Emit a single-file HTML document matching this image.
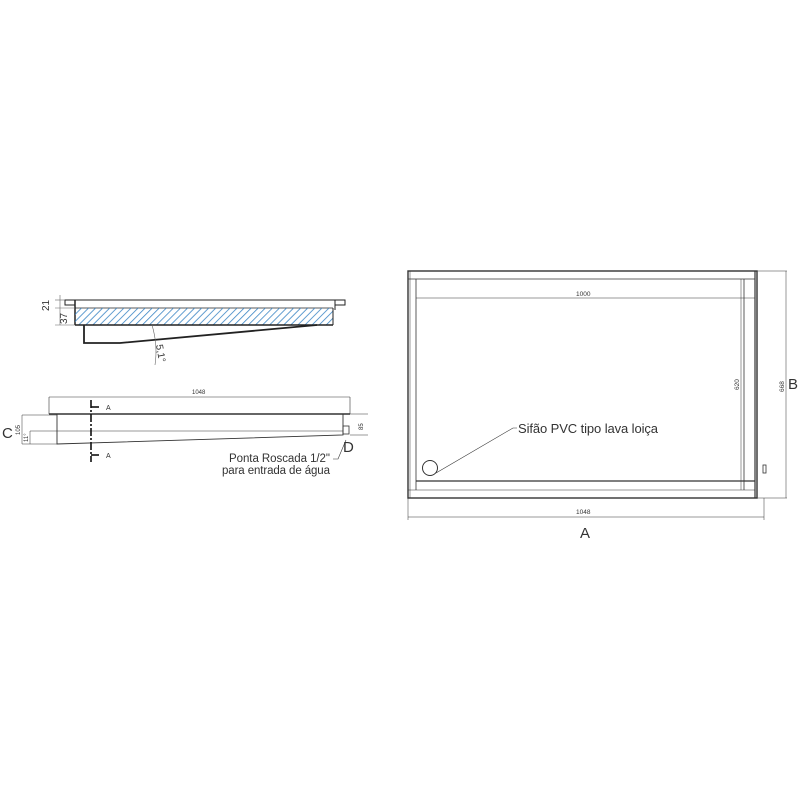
<!DOCTYPE html>
<html><head><meta charset="utf-8"><style>
html,body{margin:0;padding:0;background:#fff;width:800px;height:800px;overflow:hidden}
text{font-family:"Liberation Sans",sans-serif;fill:#333}
</style></head><body>
<svg width="800" height="800" viewBox="0 0 800 800" xmlns="http://www.w3.org/2000/svg">
<defs>
<pattern id="h" patternUnits="userSpaceOnUse" width="5" height="5" patternTransform="rotate(45)">
<line x1="0" y1="0" x2="0" y2="5" stroke="#3a85c4" stroke-width="1.6"/>
</pattern>
</defs>
<rect width="800" height="800" fill="#fff"/>
<!-- TOP LEFT SECTION VIEW -->
<g stroke="#222" fill="none">
<line x1="65" y1="300" x2="345" y2="300" stroke-width="1"/>
<rect x="65" y="300" width="10" height="5" stroke-width="1"/>
<rect x="335" y="300" width="10" height="5" stroke-width="1"/>
<line x1="75" y1="300" x2="75" y2="325" stroke-width="1.5"/>
<line x1="335" y1="300" x2="335" y2="310" stroke-width="1"/>
<line x1="75" y1="308" x2="333" y2="308" stroke-width="0.8"/>
<rect x="75" y="308" width="258" height="17" fill="url(#h)" stroke="none"/>
<line x1="75" y1="325" x2="333" y2="325" stroke-width="1.5"/>
<line x1="333" y1="308" x2="333" y2="325" stroke-width="1"/>
<polyline points="84,325 84,343 120,343 317,325" stroke-width="1.8"/>
<line x1="60" y1="295" x2="60" y2="325" stroke="#666" stroke-width="0.6"/>
<line x1="55" y1="300" x2="65" y2="300" stroke="#666" stroke-width="0.6"/>
<line x1="55" y1="308" x2="75" y2="308" stroke="#666" stroke-width="0.6"/>
<line x1="55" y1="325" x2="75" y2="325" stroke="#666" stroke-width="0.6"/>
<path d="M152,325 Q158,345 155,365" stroke="#666" stroke-width="0.6"/>
</g>
<text x="0" y="0" font-size="10" transform="translate(49,311) rotate(-90)">21</text>
<text x="0" y="0" font-size="10" transform="translate(67,324) rotate(-90)">37</text>
<text x="0" y="0" font-size="10" transform="translate(156,345) rotate(80)">5,1°</text>

<!-- SIDE VIEW -->
<g stroke="#333" fill="none">
<line x1="49" y1="397" x2="350" y2="397" stroke-width="0.6"/>
<line x1="49" y1="397" x2="49" y2="414" stroke-width="0.6"/>
<line x1="350" y1="397" x2="350" y2="414" stroke-width="0.6"/>
<line x1="49" y1="414" x2="350" y2="414" stroke-width="1.6"/>
<polyline points="57,414 57,444 343,435 343,414" stroke-width="0.9"/>
<line x1="57" y1="431" x2="343" y2="431" stroke-width="0.5"/>
<rect x="343" y="426" width="6" height="8" stroke-width="0.8"/>
<line x1="22" y1="415" x2="57" y2="415" stroke-width="0.5"/>
<line x1="22" y1="444" x2="57" y2="444" stroke-width="0.5"/>
<line x1="22" y1="415" x2="22" y2="444" stroke-width="0.5"/>
<line x1="30" y1="431" x2="57" y2="431" stroke-width="0.5"/>
<line x1="30" y1="431" x2="30" y2="444" stroke-width="0.5"/>
<line x1="343" y1="414" x2="368" y2="414" stroke-width="0.5"/>
<line x1="350" y1="435" x2="368" y2="435" stroke-width="0.5"/>
<line x1="91" y1="400" x2="91" y2="462" stroke="#111" stroke-width="1.6" stroke-dasharray="8,2,2,2"/>
<line x1="91" y1="407" x2="99" y2="407" stroke="#111" stroke-width="1.6"/>
<line x1="91" y1="455" x2="99" y2="455" stroke="#111" stroke-width="1.6"/>
<path d="M333,459 L338,459 L346,440" stroke-width="0.6"/>
</g>
<text x="192" y="394" font-size="6">1048</text>
<text x="106" y="410" font-size="7">A</text>
<text x="106" y="458" font-size="7">A</text>
<text x="2" y="438" font-size="15" fill="#111">C</text>
<text x="0" y="0" font-size="6" transform="translate(20,435) rotate(-90)">105</text>
<text x="0" y="0" font-size="6" transform="translate(28,442) rotate(-90)">11°</text>
<text x="0" y="0" font-size="6" transform="translate(363,430) rotate(-90)">85</text>
<text x="343" y="452" font-size="15" fill="#111">D</text>
<text x="229" y="462" font-size="11.5" fill="#444" textLength="101">Ponta Roscada 1/2"</text>
<text x="222" y="474" font-size="11.5" fill="#444" textLength="108">para entrada de água</text>

<!-- PLAN VIEW -->
<g stroke="#333" fill="none">
<rect x="408" y="271" width="349" height="227" stroke-width="1.4"/>
<rect x="410" y="271" width="345" height="227" stroke-width="0.5"/>
<line x1="408" y1="279" x2="755" y2="279" stroke-width="0.8"/>
<line x1="416" y1="279" x2="416" y2="490" stroke-width="0.8"/>
<line x1="744" y1="279" x2="744" y2="490" stroke-width="0.8"/>
<line x1="755" y1="271" x2="755" y2="498" stroke-width="1.2"/>
<line x1="416" y1="481" x2="755" y2="481" stroke-width="1.2"/>
<line x1="408" y1="490" x2="755" y2="490" stroke-width="0.6"/>
<line x1="416" y1="298" x2="755" y2="298" stroke-width="0.5"/>
<line x1="741" y1="279" x2="741" y2="490" stroke-width="0.5"/>
<line x1="757" y1="271" x2="787" y2="271" stroke-width="0.5"/>
<line x1="757" y1="498" x2="787" y2="498" stroke-width="0.5"/>
<line x1="786" y1="271" x2="786" y2="498" stroke-width="0.5"/>
<line x1="408" y1="498" x2="408" y2="520" stroke-width="0.5"/>
<line x1="764" y1="498" x2="764" y2="520" stroke-width="0.5"/>
<line x1="408" y1="517" x2="764" y2="517" stroke-width="0.5"/>
<rect x="763" y="465" width="3" height="8" stroke-width="0.8"/>
<circle cx="430" cy="468" r="7.5" stroke-width="1"/>
<polyline points="436,473 513,428 517,428" stroke-width="0.6"/>
</g>
<text x="576" y="296" font-size="6.5">1000</text>
<text x="0" y="0" font-size="6.5" transform="translate(739,390) rotate(-90)">620</text>
<text x="0" y="0" font-size="6.5" transform="translate(784,392) rotate(-90)">668</text>
<text x="576" y="514" font-size="6.5">1048</text>
<text x="788" y="389" font-size="15" fill="#111">B</text>
<text x="580" y="538" font-size="15" fill="#111">A</text>
<text x="518" y="433" font-size="13" fill="#444" textLength="140">Sifão PVC tipo lava loiça</text>
</svg>
</body></html>
